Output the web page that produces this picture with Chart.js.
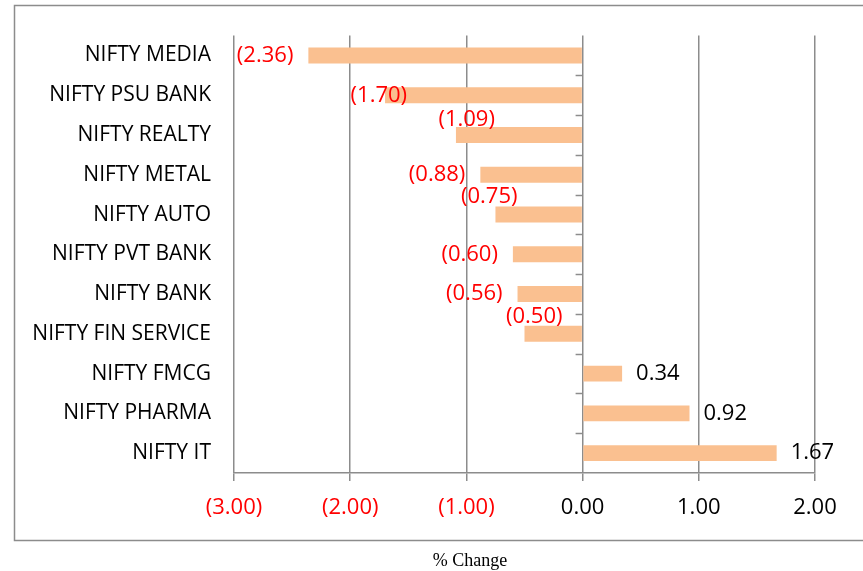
<!DOCTYPE html>
<html>
<head>
<meta charset="utf-8">
<script src="https://cdn.jsdelivr.net/npm/chart.js@4.4.1/dist/chart.umd.min.js"></script>
<style>
  html, body { margin: 0; padding: 0; background: #fff; }
</style>
</head>
<body>
<canvas id="grafico" width="863" height="571"></canvas>
<script>
// indices e variacao em %
var indices = ["NIFTY MEDIA", "NIFTY PSU BANK", "NIFTY REALTY", "NIFTY METAL", "NIFTY AUTO",
	"NIFTY PVT BANK", "NIFTY BANK", "NIFTY FIN SERVICE", "NIFTY FMCG", "NIFTY PHARMA", "NIFTY IT"];
var variacao = [-2.36, -1.70, -1.09, -0.88, -0.75, -0.60, -0.56, -0.50, 0.34, 0.92, 1.67];
var eixoMin = -3;
var eixoMax = 2;
var eixoPasso = 1;
var tituloEixo = "% Change";

var vermelho = "#FF0000";
var corGrade = "#8c8c8c";

function formata(v) {
	var s = Math.abs(v).toFixed(2);
	return v < 0 ? "(" + s + ")" : s;
}

// deslocamentos dos rotulos que o excel empurrou pra cima
var desloca = { 1: [37, 0], 2: [54, -15], 4: [37, -18], 7: [53, -17] };

var rotulosPlugin = {
	id: "rotulos",
	beforeDraw: function (chart) {
		var ctx = chart.ctx;
		ctx.save();
		ctx.strokeStyle = "#8c8c8c";
		ctx.lineWidth = 1.5;
		ctx.strokeRect(14.5, 5.5, 900, 535);
		ctx.restore();
	},
	afterDatasetsDraw: function (chart) {
		var ctx = chart.ctx;
		var area = chart.chartArea;
		var x0 = chart.scales.x.getPixelForValue(0);
		ctx.save();
		// tracinhos no eixo zero
		ctx.strokeStyle = corGrade;
		ctx.lineWidth = 1.5;
		var passo = (area.bottom - area.top) / indices.length;
		for (var k = 1; k < indices.length; k++) {
			var yy = Math.round(area.top + passo * k) + 0.5;
			ctx.beginPath();
			ctx.moveTo(x0 - 7, yy);
			ctx.lineTo(x0, yy);
			ctx.stroke();
		}
		ctx.font = "22px 'Open Sans'";
		ctx.textBaseline = "middle";
		var meta = chart.getDatasetMeta(0);
		meta.data.forEach(function (bar, i) {
			var v = variacao[i];
			var d = desloca[i] || [0, 0];
			if (v < 0) {
				ctx.fillStyle = vermelho;
				ctx.textAlign = "right";
				ctx.fillText(formata(v), bar.x - 15 + d[0], bar.y + d[1]);
			} else {
				ctx.fillStyle = "#000";
				ctx.textAlign = "left";
				ctx.fillText(formata(v), bar.x + 14 + d[0], bar.y + d[1]);
			}
		});
		// titulo do eixo
		ctx.fillStyle = "#000";
		ctx.textAlign = "center";
		ctx.font = "18px 'Liberation Serif'";
		ctx.fillText(tituloEixo, 470, 561);
		ctx.restore();
	}
};

var config = {
	type: "bar",
	data: {
		labels: indices,
		datasets: [
			{
				data: variacao,
				backgroundColor: "#FAC090",
				borderWidth: 0,
				categoryPercentage: 1,
				barPercentage: 0.4,
				label: "% Change",
			},
		],
	},
	options: {
		indexAxis: "y",
		responsive: false,
		animation: false,
		layout: {
			padding: { left: 0, right: 48, top: 35, bottom: 0 },
		},
		plugins: {
			legend: { display: false },
			tooltip: { enabled: false },
			title: { display: false },
		},
		scales: {
			x: {
				min: eixoMin,
				max: eixoMax,
				afterFit: function (scale) { scale.height = 98; },
				ticks: {
					stepSize: eixoPasso,
					padding: 14,
					font: { family: "'Open Sans'", size: 22 },
					color: function (c) { return c.tick.value < 0 ? vermelho : "#000"; },
					callback: function (v) { return formata(v); },
				},
				grid: {
					color: corGrade,
					lineWidth: 1.5,
					drawTicks: true,
					tickLength: 8,
				},
				border: { color: corGrade, width: 1.5 },
			},
			y: {
				afterFit: function (scale) { scale.width = 234; },
				ticks: {
					padding: 23,
					font: { family: "'Open Sans'", size: 21 },
					color: "#000",
				},
				grid: { display: false, drawTicks: false },
				border: { display: false },
			},
		},
	},
	plugins: [rotulosPlugin],
};

var ctx = document.getElementById("grafico").getContext("2d");
window.meuGrafico = new Chart(ctx, config);
</script>
</body>
</html>
